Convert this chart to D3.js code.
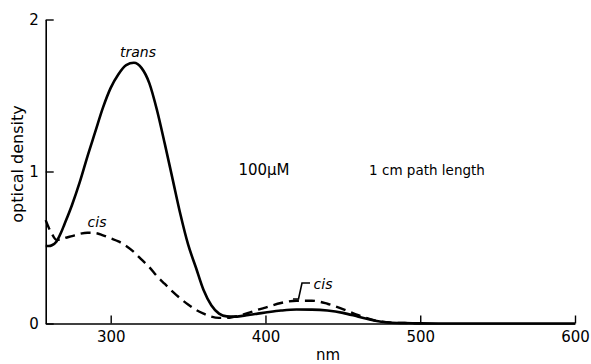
<!DOCTYPE html>
<html>
<head>
<meta charset="utf-8">
<script src="https://cdn.jsdelivr.net/npm/d3@7"></script>
<style>
  html, body { margin: 0; padding: 0; background: #fff; }
  svg { display: block; font-family: "DejaVu Sans", sans-serif; }
</style>
</head>
<body>
<svg id="chart" width="591" height="364"></svg>
<script>
// wavelengths (nm)
const wavelengths = [258,260,262,265,268,270,275,280,285,290,295,300,305,310,315,320,325,330,335,340,345,350,355,360,365,370,375,380,385,390,395,400,410,420,430,440,450,460,470,480,490,500,520,550,600];
// trans isomer optical density
const transOD = [0.51,0.51,0.515,0.54,0.60,0.65,0.78,0.93,1.10,1.26,1.42,1.55,1.64,1.70,1.715,1.68,1.58,1.40,1.18,0.95,0.72,0.52,0.37,0.22,0.12,0.065,0.047,0.045,0.05,0.058,0.065,0.072,0.085,0.092,0.091,0.085,0.07,0.045,0.02,0.007,0.003,0.001,0,0,0];
// cis isomer optical density
const cisOD = [0.68,0.63,0.59,0.55,0.55,0.56,0.575,0.59,0.597,0.595,0.58,0.56,0.54,0.51,0.47,0.42,0.37,0.31,0.26,0.21,0.165,0.125,0.09,0.065,0.045,0.037,0.037,0.045,0.057,0.073,0.09,0.105,0.135,0.15,0.15,0.13,0.095,0.055,0.022,0.007,0.003,0.001,0,0,0];
const xTicks = [300,400,500,600];
const yTicks = [0,1,2];
const xLabel = "nm";
const yLabel = "optical density";

const svg = d3.select("#chart");
const x = d3.scaleLinear().domain([258, 600]).range([45.7, 575]);
const y = d3.scaleLinear().domain([0, 2]).range([323.5, 19.5]);

// axes
const xAxis = d3.axisBottom(x).tickValues(xTicks).tickSizeInner(-8).tickSizeOuter(0).tickPadding(8);
const yAxis = d3.axisLeft(y).tickValues(yTicks).tickSizeInner(-8).tickSizeOuter(0).tickPadding(7).tickFormat(d3.format("d"));

const gx = svg.append("g").attr("transform", `translate(0,${y(0)})`).call(xAxis);
const gy = svg.append("g").attr("transform", `translate(${x(258)},0)`).call(yAxis);
[gx, gy].forEach(g => {
  g.select(".domain").attr("stroke", "#000").attr("stroke-width", 1.6);
  g.selectAll(".tick line").attr("stroke", "#000").attr("stroke-width", 1.4);
  g.selectAll(".tick text").attr("fill", "#000").attr("font-size", 15).attr("font-family", "DejaVu Sans, sans-serif");
});

// axis titles
svg.append("text").attr("x", 328).attr("y", 360).attr("text-anchor", "middle")
  .attr("font-size", 15).text(xLabel);
svg.append("text").attr("transform", "translate(23,164) rotate(-90)").attr("text-anchor", "middle")
  .attr("font-size", 16).text(yLabel);

// curves
const line = d3.line().x(d => x(d[0])).y(d => y(d[1])).curve(d3.curveMonotoneX);
const cisData = wavelengths.map((w, i) => [w, cisOD[i]]).filter(d => d[0] <= 510);
const transData = wavelengths.map((w, i) => [w, transOD[i]]);

svg.append("path").datum(cisData).attr("d", line)
  .attr("fill", "none").attr("stroke", "#000").attr("stroke-width", 2.4)
  .attr("stroke-dasharray", "10,6");
svg.append("path").datum(transData).attr("d", line)
  .attr("fill", "none").attr("stroke", "#000").attr("stroke-width", 2.6);

// annotations
svg.append("text").attr("x", 138).attr("y", 57).attr("text-anchor", "middle")
  .attr("font-size", 14).attr("font-style", "italic").text("trans");
svg.append("text").attr("x", 97).attr("y", 227).attr("text-anchor", "middle")
  .attr("font-size", 14).attr("font-style", "italic").text("cis");
svg.append("text").attr("x", 323).attr("y", 289).attr("text-anchor", "middle")
  .attr("font-size", 14).attr("font-style", "italic").text("cis");
svg.append("path").attr("d", "M310,283 L302,283 L298.5,299 L293,299")
  .attr("fill", "none").attr("stroke", "#000").attr("stroke-width", 1.6);

svg.append("text").attr("x", 264).attr("y", 175).attr("text-anchor", "middle")
  .attr("font-size", 15).text("100\u03BCM");
svg.append("text").attr("x", 427).attr("y", 175).attr("text-anchor", "middle")
  .attr("font-size", 13.5).text("1 cm path length");
</script>
</body>
</html>
